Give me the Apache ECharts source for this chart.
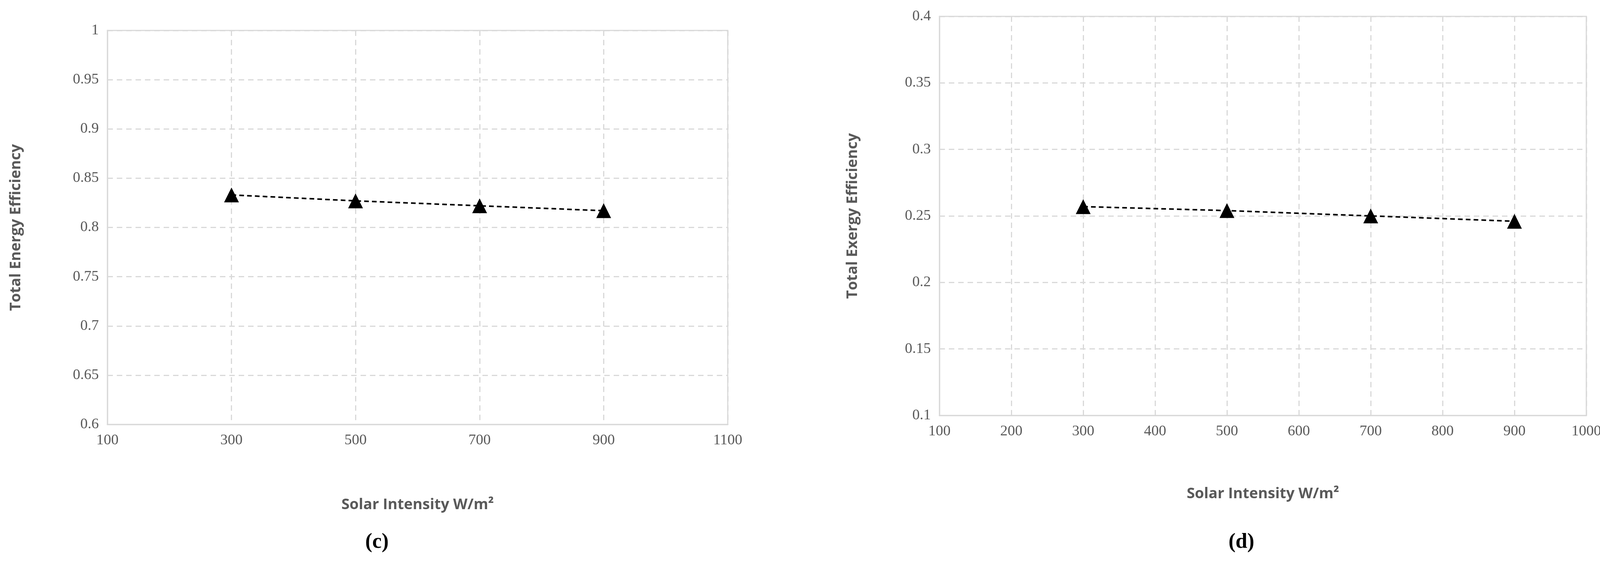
<!DOCTYPE html>
<html><head><meta charset="utf-8">
<script src="https://cdn.jsdelivr.net/npm/echarts@6/dist/echarts.min.js"></script>
<style>html,body{margin:0;background:#fff}#c{width:4103px;height:1447px}</style>
</head><body><div id="c"></div>
<script>
var intensity = [300, 500, 700, 900];
var energyEff = [0.833, 0.827, 0.822, 0.817];
var exergyEff = [0.257, 0.254, 0.250, 0.246];
var xNameText = 'Solar Intensity W/m²';

var gridLine = {show: true, lineStyle: {color: '#d9d9d9', type: [14, 10], width: 3}};
var axisLine = {show: true, lineStyle: {color: '#d9d9d9', width: 3}};
var lbl = {color: '#595959', fontSize: 38, fontFamily: 'Liberation Sans Narrow', margin: 22,
    formatter: function (v) { return String(v); }};
var nameStyle = {color: '#595959', fontSize: 38, fontWeight: 'bold', fontFamily: 'Open Sans'};

function xAxis(idx, max, interval, gap) {
    return {type: 'value', gridIndex: idx, min: 100, max: max, interval: interval,
        name: xNameText, nameLocation: 'middle', nameGap: gap, nameTextStyle: nameStyle,
        axisLine: axisLine, axisTick: {show: false}, axisLabel: lbl, splitLine: gridLine};
}
function yAxis(idx, min, max, name, gap) {
    return {type: 'value', gridIndex: idx, min: min, max: max, interval: 0.05,
        name: name, nameLocation: 'middle', nameGap: gap, nameTextStyle: nameStyle,
        axisLine: axisLine, axisTick: {show: false}, axisLabel: lbl, splitLine: gridLine};
}
function series(idx, vals) {
    return {type: 'line', xAxisIndex: idx, yAxisIndex: idx,
        data: intensity.map(function (x, i) { return [x, vals[i]]; }),
        symbol: 'triangle', symbolSize: 38, itemStyle: {color: '#000'},
        lineStyle: {color: '#000', width: 4, type: [12, 8]}};
}

var chart = echarts.init(document.getElementById('c'));
chart.setOption({
    backgroundColor: '#fff',
    animation: false,
    grid: [
        {left: 275, top: 78, width: 1588, height: 1009, show: true, borderColor: '#d9d9d9', borderWidth: 3},
        {left: 2405, top: 42, width: 1656, height: 1022, show: true, borderColor: '#d9d9d9', borderWidth: 3}
    ],
    xAxis: [xAxis(0, 1100, 200, 187), xAxis(1, 1000, 100, 182)],
    yAxis: [yAxis(0, 0.6, 1, 'Total Energy Efficiency', 215), yAxis(1, 0.1, 0.4, 'Total Exergy Efficiency', 203)],
    series: [series(0, energyEff), series(1, exergyEff)],
    graphic: [
        {type: 'text', left: 935, top: 1362, style: {text: '(c)', fontSize: 54, fontWeight: 'bold', fontFamily: 'Liberation Serif', fill: '#000'}},
        {type: 'text', left: 3145, top: 1362, style: {text: '(d)', fontSize: 54, fontWeight: 'bold', fontFamily: 'Liberation Serif', fill: '#000'}}
    ]
});
</script></body></html>
